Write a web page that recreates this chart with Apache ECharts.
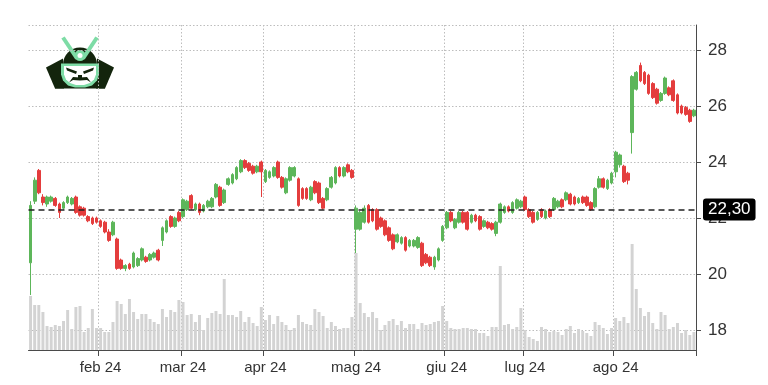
<!DOCTYPE html>
<html>
<head>
<meta charset="utf-8">
<script src="https://cdn.jsdelivr.net/npm/echarts@6/dist/echarts.min.js"></script>
<style>
html,body{margin:0;padding:0;background:#ffffff;}
#chart{width:768px;height:385px;}
</style>
</head>
<body>
<div id="chart"></div>
<script>
// ---- categories: trading days 2024 (month -> days) ----
const tradingDays = {
  '01': [8,9,10,11,12,16,17,18,19,22,23,24,25,26,29,30,31],
  '02': [1,2,5,6,7,8,9,12,13,14,15,16,20,21,22,23,26,27,28,29],
  '03': [1,4,5,6,7,8,11,12,13,14,15,18,19,20,21,22,25,26,27,28],
  '04': [1,2,3,4,5,8,9,10,11,12,15,16,17,18,19,22,23,24,25,26,29,30],
  '05': [1,2,3,6,7,8,9,10,13,14,15,16,17,20,21,22,23,24,28,29,30,31],
  '06': [3,4,5,6,7,10,11,12,13,14,17,18,20,21,24,25,26,27,28],
  '07': [1,2,3,5,8,9,10,11,12,15,16,17,18,19,22,23,24,25,26,29,30,31],
  '08': [1,2,5,6,7,8,9,12,13,14,15,16,19,20,21,22,23,26,27,28]
};
const monthNames = {'01':'gen','02':'feb','03':'mar','04':'apr','05':'mag','06':'giu','07':'lug','08':'ago'};

// ---- series values ----
const openPrices = [
  20.4,22.6,23.7,22.75,22.5,22.6,22.7,22.5,22.35,22.55,22.5,22.75,22.4,22.35,22.05,22.0,22.0,
  21.9,21.85,21.5,21.4,21.25,20.5,20.2,20.35,20.25,20.3,20.5,20.6,20.5,20.6,20.85,21.2,21.5,22.05,21.7,22.2,
  22.05,22.3,22.8,22.3,22.5,22.25,22.4,22.4,22.75,23.1,22.55,23.2,23.25,23.4,23.65,24.05,23.95,23.85,23.65,24.0,
  23.3,23.45,23.5,24.0,23.45,22.9,23.35,23.5,23.4,23.05,23.05,22.65,23.3,23.25,22.7,22.65,23.1,23.25,23.8,23.5,23.9,23.7,
  21.6,21.6,21.85,22.45,22.3,22.3,22.0,21.9,21.65,21.4,21.15,21.1,21.3,21.0,21.0,20.95,21.1,20.7,20.6,20.25,20.5,21.2,
  21.65,22.2,21.65,21.85,22.2,22.2,21.85,22.1,22.05,21.7,21.85,21.8,21.45,21.85,22.2,22.4,22.2,22.35,22.4,
  22.75,22.3,22.2,21.95,22.3,22.0,22.3,22.3,22.4,22.65,22.65,22.85,22.75,22.55,22.75,22.75,22.55,22.4,23.1,23.4,23.05,23.25,
  23.65,23.9,23.85,23.6,25.05,26.6,27.45,27.2,27.1,26.8,26.6,26.2,26.45,26.65,26.9,26.4,26.0,25.95,25.85,25.65
];
const closePrices = [
  22.45,23.35,22.9,22.55,22.75,22.75,22.45,22.2,22.55,22.75,22.7,22.2,22.1,22.1,21.9,21.8,21.85,
  21.7,21.5,21.2,21.85,20.2,20.2,20.3,20.2,20.75,20.55,20.9,20.45,20.7,20.75,20.5,21.65,21.9,21.7,22.0,21.9,
  22.65,22.6,22.35,22.5,22.2,22.45,22.6,22.7,23.2,22.45,23.0,23.4,23.55,23.8,24.05,23.8,23.7,23.6,23.85,23.65,
  23.7,23.65,23.8,23.45,23.1,23.4,23.8,23.8,22.45,22.7,22.7,23.1,22.9,22.55,22.35,23.05,23.45,23.8,23.5,23.8,23.65,23.45,
  22.35,22.2,22.35,21.85,21.9,21.6,21.7,21.4,21.2,20.9,21.4,21.3,20.85,21.2,21.2,21.3,20.3,20.4,20.3,20.6,20.9,21.7,
  22.2,21.9,21.95,22.2,21.85,21.6,22.1,21.9,21.6,21.9,21.65,21.6,21.85,22.5,22.4,22.25,22.55,22.65,22.6,
  22.3,22.05,21.85,22.2,22.05,22.25,22.05,22.7,22.6,22.4,22.9,22.5,22.5,22.7,22.55,22.45,22.3,23.05,23.4,23.1,23.35,23.6,
  24.35,24.25,23.3,23.35,27.05,27.2,26.9,26.8,26.45,26.3,26.1,26.45,27.0,26.4,26.2,25.75,25.75,25.7,25.45,25.85
];
const lowPrices = [
  19.25,22.5,22.85,22.45,22.4,22.55,22.4,22.0,22.3,22.5,22.45,22.15,22.05,22.05,21.85,21.75,21.8,
  21.65,21.45,21.15,21.35,20.15,20.15,20.1,20.15,20.2,20.25,20.45,20.4,20.45,20.55,20.45,21.0,21.45,21.65,21.65,21.85,
  22.0,22.25,22.3,22.25,22.1,22.2,22.35,22.35,22.7,22.4,22.5,23.15,23.2,23.35,23.6,23.75,23.65,23.55,23.6,22.75,
  23.25,23.4,23.45,23.4,23.05,22.85,23.3,23.45,22.4,22.65,22.65,22.6,22.85,22.5,22.3,22.6,23.05,23.2,23.45,23.45,23.6,23.4,
  20.75,21.55,21.8,21.8,21.85,21.55,21.65,21.35,21.15,20.85,21.1,21.05,20.8,20.95,20.95,20.9,20.25,20.35,20.25,20.15,20.45,21.15,
  21.6,21.85,21.6,21.8,21.8,21.55,21.8,21.85,21.55,21.65,21.6,21.55,21.35,21.8,22.15,22.2,22.15,22.3,22.35,
  22.25,22.0,21.8,21.9,22.0,21.95,22.0,22.25,22.35,22.35,22.6,22.45,22.45,22.5,22.5,22.4,22.25,22.35,23.05,23.05,23.0,23.2,
  23.45,23.8,23.25,23.2,24.3,26.55,26.85,26.75,26.4,26.25,26.05,26.15,26.4,26.35,26.15,25.7,25.7,25.65,25.4,25.6
];
const highPrices = [
  22.6,23.45,23.75,22.85,22.8,22.8,22.75,22.55,22.6,22.8,22.75,22.8,22.45,22.4,22.1,22.05,22.05,
  21.95,21.9,21.6,21.9,21.3,20.55,20.35,20.4,20.8,20.6,20.95,20.65,20.75,20.8,20.9,21.7,21.95,22.1,22.05,22.25,
  22.7,22.65,22.85,22.55,22.55,22.5,22.65,22.75,23.25,23.15,23.05,23.45,23.6,23.85,24.1,24.1,24.0,23.9,23.9,24.05,
  23.75,23.7,23.85,24.05,23.5,23.45,23.85,23.85,23.45,23.1,23.1,23.15,23.35,23.3,22.75,23.1,23.5,23.85,23.85,23.85,23.95,23.75,
  22.45,22.25,22.45,22.5,22.35,22.35,22.05,21.95,21.7,21.45,21.45,21.35,21.35,21.25,21.25,21.35,21.15,20.75,20.65,20.65,20.95,21.75,
  22.25,22.25,22.0,22.25,22.25,22.25,22.15,22.15,22.1,21.95,21.9,21.85,21.9,22.55,22.45,22.45,22.6,22.7,22.65,
  22.8,22.35,22.25,22.25,22.35,22.3,22.35,22.75,22.65,22.7,22.95,22.9,22.8,22.75,22.8,22.8,22.6,23.1,23.5,23.45,23.4,23.65,
  24.4,24.3,23.9,23.65,27.1,27.25,27.55,27.25,27.15,26.85,26.65,26.5,27.05,26.7,26.95,26.45,26.05,26.0,25.9,25.9
];
const volumes = [
  54,45,45,38,24,23,25,24,29,40,21,43,44,18,22,41,22,
  22,18,18,28,49,46,36,51,38,31,36,36,31,28,26,41,33,40,38,50,
  48,35,36,28,35,20,32,37,39,36,71,35,35,33,39,28,33,27,24,43,
  30,35,26,34,28,25,20,22,35,28,26,25,41,38,34,22,28,24,21,22,22,33,
  97,47,37,33,38,32,20,25,29,31,25,29,22,26,26,21,27,25,26,28,29,44,
  29,22,21,21,22,22,21,21,17,17,14,23,23,84,25,26,21,23,42,
  20,13,11,9,23,21,18,19,18,15,21,24,17,21,19,17,14,28,25,22,16,22,
  32,29,33,27,106,61,42,34,38,27,21,38,35,21,23,27,17,20,15,18
];
const refPrice = 22.30;
const priceMin = 17.2857, priceMax = 28.8929;
const volumeMax = 110;

// ---- build categories ----
const dates = [];
const monthStart = new Set();
Object.keys(tradingDays).forEach(m => {
  tradingDays[m].forEach((d, k) => {
    if (k === 0 && dates.length > 0) monthStart.add(dates.length);
    dates.push('2024-' + m + '-' + String(d).padStart(2, '0'));
  });
});
const isMonthTick = (idx) => monthStart.has(idx);
const candles = dates.map((d, i) => [openPrices[i], closePrices[i], lowPrices[i], highPrices[i]]);

const FONT = '"Liberation Sans", Arial, Helvetica, sans-serif';
const UP = '#5db65a', DOWN = '#e43d3d';
const DARK = '#13240c', MINT = '#7edca6';
const GRIDLINE = {type: [1.5, 2], color: '#bdbdbd', width: 1};

const chart = echarts.init(document.getElementById('chart'), null, {renderer: 'canvas'});
chart.setOption({
  animation: false,
  backgroundColor: '#ffffff',
  textStyle: {fontFamily: FONT},
  grid: [
    {left: 28.5, right: 72, top: 25, bottom: 35},
    {left: 28.5, right: 72, top: 240, bottom: 35}
  ],
  xAxis: [
    {
      type: 'category', gridIndex: 0, data: dates, boundaryGap: true,
      axisLine: {show: true, lineStyle: {color: '#4a4a4a', width: 1}},
      axisTick: {show: true, interval: isMonthTick, length: 6, lineStyle: {color: '#4a4a4a'}},
      axisLabel: {
        interval: isMonthTick, color: '#333', fontSize: 15, margin: 10, fontFamily: FONT,
        formatter: v => monthNames[v.slice(5, 7)] + ' ' + v.slice(2, 4)
      },
      splitLine: {show: true, interval: isMonthTick, lineStyle: GRIDLINE}
    },
    {
      type: 'category', gridIndex: 1, data: dates, boundaryGap: true,
      axisLine: {show: false}, axisTick: {show: false}, axisLabel: {show: false}, splitLine: {show: false}
    }
  ],
  yAxis: [
    {
      type: 'value', gridIndex: 0, position: 'right', min: priceMin, max: priceMax, splitNumber: 5,
      axisLine: {show: true, lineStyle: {color: '#4a4a4a', width: 1}},
      axisTick: {show: true, length: 5, lineStyle: {color: '#4a4a4a'}},
      axisLabel: {color: '#333', fontSize: 17, margin: 12, fontFamily: FONT,
        showMinLabel: false, showMaxLabel: false, formatter: v => String(Math.round(v))},
      splitLine: {show: true, lineStyle: GRIDLINE}
    },
    {
      type: 'value', gridIndex: 1, min: 0, max: volumeMax,
      axisLine: {show: false}, axisTick: {show: false}, axisLabel: {show: false}, splitLine: {show: false}
    }
  ],
  series: [
    {
      name: 'Volume', type: 'bar', xAxisIndex: 1, yAxisIndex: 1, data: volumes,
      barWidth: '72%', itemStyle: {color: '#d3d3d3'}, z: 1, silent: true
    },
    {
      name: 'Prezzo', type: 'candlestick', xAxisIndex: 0, yAxisIndex: 0, data: candles,
      barWidth: 3.2, z: 3, silent: true,
      itemStyle: {color: UP, color0: DOWN, borderColor: UP, borderColor0: DOWN, borderWidth: 1},
      markLine: {
        silent: true, symbol: ['none', 'none'], animation: false,
        lineStyle: {color: '#222', type: [6, 4], width: 1.6},
        label: {
          show: true, position: 'end', distance: 7,
          formatter: () => refPrice.toFixed(2).replace('.', ','),
          color: '#fff', backgroundColor: '#000', fontSize: 17, fontFamily: FONT,
          padding: [3, 5, 2, 5], borderRadius: 3
        },
        emphasis: {disabled: true},
        data: [{yAxis: refPrice}]
      }
    }
  ],
  graphic: [
    {
      type: 'group', left: 46, top: 35, silent: true,
      children: [
        {type: 'polygon', shape: {points: [[0,31],[17,22],[18,52],[9,52]]}, style: {fill: DARK}},
        {type: 'polygon', shape: {points: [[68,31],[51,22],[50,52],[59,52]]}, style: {fill: DARK}},
        {type: 'circle', shape: {cx: 34, cy: 28, r: 17}, style: {fill: DARK}},
        {type: 'rect', shape: {x: 9, y: 42, width: 50, height: 10}, style: {fill: DARK}},
        {type: 'line', shape: {x1: 17, y1: 1, x2: 31, y2: 22}, style: {stroke: MINT, lineWidth: 4}},
        {type: 'line', shape: {x1: 51, y1: 1, x2: 37, y2: 22}, style: {stroke: MINT, lineWidth: 4}},
        {type: 'circle', shape: {cx: 34, cy: 19, r: 5.5}, style: {fill: MINT}},
        {type: 'circle', shape: {cx: 34, cy: 19, r: 2.5}, style: {fill: '#ffffff'}},
        {type: 'polygon', shape: {points: [[15,27],[53,27],[53,38],[51,44],[46,49],[39,51],[29,51],[22,49],[17,44],[15,38]]}, style: {fill: MINT}},
        {type: 'polygon', shape: {points: [[18,29.5],[50,29.5],[50,38],[48,43],[44,46.5],[38,48.5],[30,48.5],[24,46.5],[20,43],[18,38]]}, style: {fill: '#ffffff'}},
        {type: 'polygon', shape: {points: [[20,31],[31,35],[30,37.5],[21,34]]}, style: {fill: DARK}},
        {type: 'polygon', shape: {points: [[48,31],[37,35],[38,37.5],[47,34]]}, style: {fill: DARK}},
        {type: 'polygon', shape: {points: [[23,46],[27,40.5],[34,41],[41,40.5],[45,46],[41,43.5],[34,44],[27,43.5]]}, style: {fill: DARK}},
        {type: 'rect', shape: {x: 32, y: 38.5, width: 4, height: 3.5}, style: {fill: DARK}}
      ]
    }
  ]
});
</script>
</body>
</html>
